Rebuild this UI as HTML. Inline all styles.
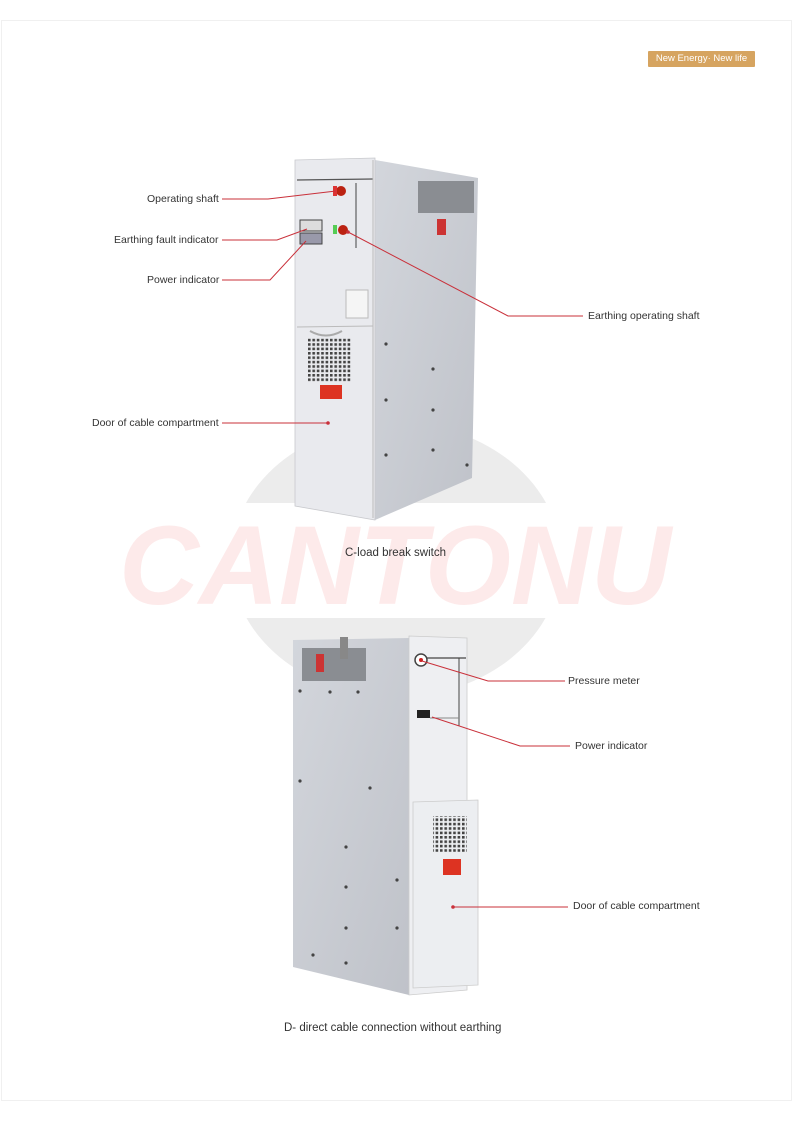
<!DOCTYPE html>
<html><head><meta charset="utf-8"><style>
html,body{margin:0;padding:0;background:#fff}
body{width:793px;height:1122px;position:relative;overflow:hidden;font-family:"Liberation Sans",sans-serif}
.lbl{position:absolute;font-size:10.5px;color:#333;white-space:nowrap}
</style></head><body>
<svg width="793" height="1122" style="position:absolute;left:0;top:0">
<defs>
<clipPath id="cb"><rect x="0" y="0" width="793" height="503"/><rect x="0" y="618" width="793" height="500"/></clipPath>
<pattern id="dots" width="4.4" height="4.4" patternUnits="userSpaceOnUse"><rect width="2.6" height="2.6" fill="#444"/></pattern>
<linearGradient id="sg" x1="0" y1="0" x2="1" y2="1"><stop offset="0" stop-color="#d3d6dc"/><stop offset="1" stop-color="#bfc2c9"/></linearGradient>
</defs>
<rect x="1.5" y="20.5" width="790" height="1080" fill="none" stroke="#f0f0f0"/>
<ellipse cx="396" cy="560" rx="165" ry="137" fill="#ececec" clip-path="url(#cb)"/>
<text x="395" y="604" text-anchor="middle" font-family="Liberation Sans" font-weight="bold" font-style="italic" font-size="112" fill="#fdeaea" textLength="552" lengthAdjust="spacingAndGlyphs">CANTONU</text>
<!-- Cabinet C -->
<polygon points="375,160 478,178 472,478 375,520" fill="url(#sg)"/>
<polygon points="295,160 375,158 375,520 295,506" fill="#e9eaee" stroke="#c8c9cd" stroke-width="0.8"/>
<line x1="297" y1="180" x2="373" y2="179" stroke="#555" stroke-width="1.2"/>
<line x1="297" y1="327" x2="373" y2="326" stroke="#bbb"/>
<line x1="373" y1="160" x2="373" y2="518" stroke="#bbb"/>
<line x1="356" y1="183" x2="356" y2="248" stroke="#444"/>
<rect x="418" y="181" width="56" height="32" fill="#8a8d92"/>
<circle cx="341" cy="191" r="5" fill="#b21"/><rect x="333" y="186" width="4" height="10" fill="#d33"/>
<circle cx="343" cy="230" r="5" fill="#b21"/><rect x="333" y="225" width="4" height="9" fill="#5c5"/>
<rect x="300" y="220" width="22" height="11" fill="#ddd" stroke="#444"/>
<rect x="300" y="233" width="22" height="11" fill="#99a" stroke="#444"/>
<rect x="346" y="290" width="22" height="28" fill="#f5f5f5" stroke="#bbb"/>
<path d="M310,331 Q326,340 342,331" stroke="#aaa" fill="none" stroke-width="2"/>
<rect x="308" y="338" width="44" height="44" fill="url(#dots)"/>
<rect x="320" y="385" width="22" height="14" fill="#d32"/>
<rect x="437" y="219" width="9" height="16" fill="#c33"/>
<g fill="#444"><circle cx="386" cy="344" r="1.6"/><circle cx="433" cy="369" r="1.6"/><circle cx="386" cy="400" r="1.6"/><circle cx="433" cy="410" r="1.6"/><circle cx="386" cy="455" r="1.6"/><circle cx="433" cy="450" r="1.6"/><circle cx="467" cy="465" r="1.6"/></g>
<!-- Cabinet D -->
<polygon points="293,640 409,638 409,995 293,967" fill="url(#sg)"/>
<polygon points="409,636 467,638 467,990 409,995" fill="#eeeff2" stroke="#ccc" stroke-width="0.8"/>
<polygon points="413,802 478,800 478,985 413,988" fill="#eceef1" stroke="#ccc" stroke-width="0.8"/>
<rect x="302" y="648" width="64" height="33" fill="#8a8d92"/>
<rect x="316" y="654" width="8" height="18" fill="#c33"/>
<rect x="340" y="637" width="8" height="22" fill="#888"/>
<circle cx="421" cy="660" r="6" fill="#fff" stroke="#444" stroke-width="1.5"/><circle cx="421" cy="660" r="2" fill="#c22"/>
<line x1="427" y1="658" x2="466" y2="658" stroke="#444" stroke-width="1.2"/>
<line x1="459" y1="658" x2="459" y2="726" stroke="#444"/>
<line x1="430" y1="718" x2="459" y2="718" stroke="#888"/>
<rect x="417" y="710" width="13" height="8" fill="#222"/>
<rect x="433" y="816" width="34" height="36" fill="url(#dots)"/>
<rect x="443" y="859" width="18" height="16" fill="#d32"/>
<g fill="#444"><circle cx="300" cy="691" r="1.6"/><circle cx="330" cy="692" r="1.6"/><circle cx="358" cy="692" r="1.6"/><circle cx="300" cy="781" r="1.6"/><circle cx="370" cy="788" r="1.6"/><circle cx="346" cy="847" r="1.6"/><circle cx="397" cy="880" r="1.6"/><circle cx="346" cy="887" r="1.6"/><circle cx="346" cy="928" r="1.6"/><circle cx="397" cy="928" r="1.6"/><circle cx="313" cy="955" r="1.6"/><circle cx="346" cy="963" r="1.6"/></g>
<g stroke="#c9303a" stroke-width="1" fill="none">
<polyline points="222,199 268,199 336,191"/>
<polyline points="222,240 277,240 307,229"/>
<polyline points="222,280 270,280 306,241"/>
<polyline points="583,316 508,316 348,232"/>
<polyline points="222,423 328,423"/>
<polyline points="565,681 488,681 422,661"/>
<polyline points="570,746 520,746 432,717"/>
<polyline points="568,907 453,907"/>
</g>
<g fill="#c9303a"><circle cx="328" cy="423" r="1.8"/><circle cx="453" cy="907" r="1.8"/><circle cx="348" cy="232" r="1.8"/></g>
</svg>
<div style="position:absolute;left:648px;top:51px;width:107px;height:16px;background:#d6a460;border-radius:1px;color:#fff;font-size:9.5px;line-height:16px;text-align:center">New Energy· New life</div>
<div class="lbl" style="left:147px;top:193px">Operating shaft</div>
<div class="lbl" style="left:114px;top:234px">Earthing fault indicator</div>
<div class="lbl" style="left:147px;top:274px">Power indicator</div>
<div class="lbl" style="left:588px;top:310px">Earthing operating shaft</div>
<div class="lbl" style="left:92px;top:417px">Door of cable compartment</div>
<div class="lbl" style="left:345px;top:547px;font-size:11.5px">C-load break switch</div>
<div class="lbl" style="left:568px;top:675px">Pressure meter</div>
<div class="lbl" style="left:575px;top:740px">Power indicator</div>
<div class="lbl" style="left:573px;top:900px">Door of cable compartment</div>
<div class="lbl" style="left:284px;top:1022px;font-size:11.5px">D- direct cable connection without earthing</div>
</body></html>
